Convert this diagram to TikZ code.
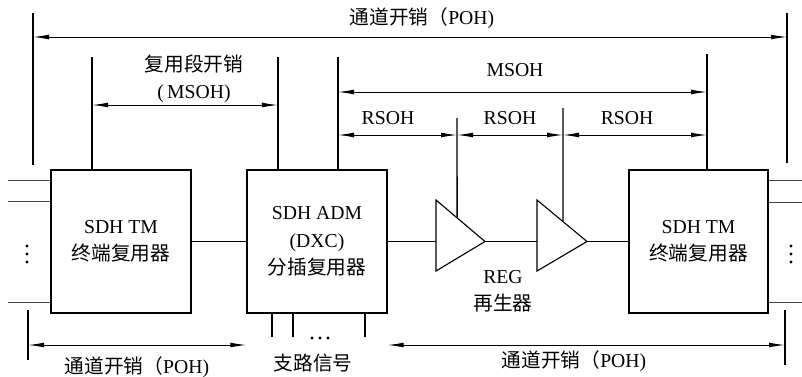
\documentclass[tikz,border=0pt]{standalone}
\usepackage{fontspec}
\setmainfont{Liberation Serif}
\newfontfamily\cjk{Noto Sans CJK SC}
\usetikzlibrary{arrows.meta, positioning, calc}
\tikzset{
  unit/.style={rectangle, draw, line width=0.9pt,
    minimum width=3.5cm, minimum height=3.575cm, inner sep=0pt,
    align=center, font=\fontsize{14pt}{19.5pt}\selectfont},
  lbl/.style={inner sep=0pt, align=center,
    font=\fontsize{14pt}{19pt}\selectfont},
  span/.style={{Latex[length=4mm,width=1.2mm]}-{Latex[length=4mm,width=1.2mm]},
    line width=0.7pt},
  tick/.style={line width=1pt},
  line/.style={line width=0.8pt},
  feed/.style={line width=0.5pt, color=black!75}
}

\begin{document}
\begin{tikzpicture}[x=0.025cm, y=-0.025cm]
  \useasboundingbox (0,0) rectangle (802,376);

  % Terminals and add/drop multiplexer
  \node[unit] (tmL) at (121,241.5) {SDH TM\\{\cjk 终端复用器}};
  \node[unit] (adm) at (317,241.5) {SDH ADM\\(DXC)\\{\cjk 分插复用器}};
  \node[unit, minimum width=3.475cm] (tmR) at (698.5,241.5) {SDH TM\\{\cjk 终端复用器}};

  % Regenerators
  \draw[line] (436,200) coordinate (r1t) -- (485,241.5) coordinate (r1tip) -- (436,271) -- cycle;
  \draw[line] (537,200) coordinate (r2t) -- (587,241.5) coordinate (r2tip) -- (537,271) -- cycle;
  \coordinate (r1in) at (436,241.5);
  \coordinate (r2in) at (537,241.5);
  \coordinate (r1hit) at ($(r1t)!0.43!(r1tip)$);
  \coordinate (r2hit) at ($(r2t)!0.52!(r2tip)$);

  % Signal path
  \draw[line] (tmL) -- (adm);
  \draw[line] (adm.east) -- (r1in);
  \draw[line] (r1tip) -- (r2in);
  \draw[line] (r2tip) -- (tmR.west);

  % Tributaries and outer lines
  \foreach \x in {272,293,365}
    \draw[line] (adm.south -| \x,0) -- ++(0,23);
  \foreach \x in {312,320,328}
    \fill (\x,338) circle (1.1pt);
  \foreach \y in {180,201,302}
    \draw[feed] (8,\y) -- (tmL.west |- 8,\y);
  \foreach \y in {180,202,302}
    \draw[feed] (tmR.east |- 802,\y) -- (802,\y);
  \foreach \y in {246,254,262} {
    \fill (27,\y) circle (1.2pt);
    \fill (791,\y) circle (1.2pt);
  }

  % Section boundaries
  \coordinate (t0) at (33,13);
  \coordinate (t9) at (787,13);
  \coordinate (t1) at (92,57);
  \coordinate (t2) at (278,57);
  \coordinate (t3) at (338,57);
  \coordinate (t6) at (707,54);
  \coordinate (t4) at (457,118);
  \coordinate (t5) at (563,108);
  \coordinate (b0) at (28,310);
  \coordinate (b9) at (785,310);
  \draw[tick] (t0) -- ++(0,152);
  \draw[tick] (t9) -- ++(0,150);
  \draw[tick] (t1) -- (t1 |- tmL.north);
  \draw[tick] (t2) -- (t2 |- adm.north);
  \draw[tick] (t3) -- (t3 |- adm.north);
  \draw[tick] (t6) -- (t6 |- tmR.north);
  \draw[tick] (t4) -- (r1hit);
  \draw[tick] (t5) -- (r2hit);
  \draw[tick] (b0) -- ++(0,50);
  \draw[tick] (b9) -- ++(0,55);

  % Overhead spans
  \coordinate (rPOH) at (0,37);
  \coordinate (rMS1) at (0,105);
  \coordinate (rMS2) at (0,92);
  \coordinate (rRS) at (0,135);
  \coordinate (rBot) at (0,345);
  \draw[span] (t0 |- rPOH) -- (t9 |- rPOH);
  \draw[span] (t1 |- rMS1) -- (t2 |- rMS1);
  \draw[span] (t3 |- rMS2) -- (t6 |- rMS2);
  \draw[span] (t3 |- rRS) -- (t4 |- rRS);
  \draw[span] (t4 |- rRS) -- (t5 |- rRS);
  \draw[span] (t5 |- rRS) -- (t6 |- rRS);
  \draw[span] (b0 |- rBot) -- (adm.west |- rBot);
  \draw[span] (adm.east |- rBot) -- (b9 |- rBot);

  % Labels
  \node[lbl] (pohTop) at (422,18) {{\cjk 通道开销（}POH)};
  \node[lbl] (msohL) at (194,78.5) {{\cjk 复用段开销}\\(\,MSOH)};
  \node[lbl] (msohR) at (515,70) {MSOH};
  \node[lbl] (rsoh1) at (388,118) {RSOH};
  \node[lbl] (rsoh2) at (510,118) {RSOH};
  \node[lbl] (rsoh3) at (627,118) {RSOH};
  \node[lbl] (regLbl) at (503,291.5) {REG\\{\cjk 再生器}};
  \node[lbl] (trib) at (313,363) {\cjk 支路信号};
  \node[lbl] (pohL) at (137,367) {{\cjk 通道开销（}POH)};
  \node[lbl] (pohR) at (574,361) {{\cjk 通道开销（}POH)};
\end{tikzpicture}
\end{document}
